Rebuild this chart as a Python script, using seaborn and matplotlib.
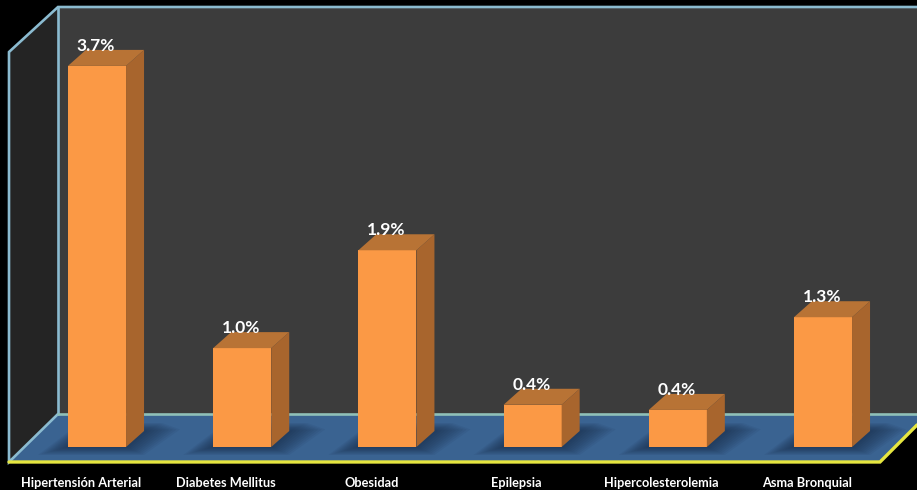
import matplotlib
matplotlib.use("Agg")
import matplotlib.pyplot as plt
import seaborn as sns
import pandas as pd
from matplotlib.patches import Polygon
from matplotlib.transforms import ScaledTranslation

categories = ["Hipertensión Arterial", "Diabetes Mellitus", "Obesidad",
              "Epilepsia", "Hipercolesterolemia", "Asma Bronquial"]
values = [3.7, 0.96, 1.91, 0.41, 0.36, 1.26]

W, H = 917, 490
sns.set_theme(style="white")
plt.rcParams["font.family"] = ["Lato", "DejaVu Sans"]

fig = plt.figure(figsize=(W / 100, H / 100), dpi=100, facecolor="black")

# Backdrop of the 3-D box, in pixel coordinates
bg = fig.add_axes([0, 0, 1, 1], zorder=0)
bg.set_xlim(0, W)
bg.set_ylim(H, 0)
bg.axis("off")
bg.add_patch(Polygon([(58, 7), (917, 7), (917, 414), (58, 414)], fc="#3c3c3c", ec="none"))
bg.add_patch(Polygon([(9, 52), (58, 7), (58, 414), (9, 462)], fc="#242424", ec="none"))
bg.add_patch(Polygon([(9, 462), (58, 414), (917, 414), (917, 425), (880, 462)], fc="#3a6391", ec="none"))
edge = "#8bbbd0"
bg.plot([917, 58, 9, 9, 58], [7, 7, 52, 462, 414], color=edge, lw=1.9, solid_joinstyle="miter")
bg.plot([58, 58], [7, 414], color=edge, lw=1.9)
bg.plot([58, 917], [414, 414], color="#8fc0b8", lw=1.9)
bg.plot([9, 880, 917], [462, 462, 425], color="#e6e640", lw=2.4, solid_joinstyle="miter")

# Chart axes: bottom edge on the bar baseline
px_x = 145.2   # pixels per category
px_y = 103.0   # pixels per percentage point
base = 447
ax = fig.add_axes([0, (H - base) / H, 1, base / H], zorder=1)
ax.patch.set_alpha(0)

df = pd.DataFrame({"cat": categories, "val": values})
sns.barplot(data=df, x="cat", y="val", ax=ax, color="#fb9945", saturation=1,
            width=0.4, errorbar=None, zorder=3, edgecolor="none", linewidth=0)

ax.set_xlim(-97 / px_x, (W - 97) / px_x)
ax.set_ylim(0, base / px_y)
ax.set_xlabel("")
ax.set_ylabel("")
ax.set_yticks([])
for s in ax.spines.values():
    s.set_visible(False)

ax.tick_params(axis="x", length=0, pad=21.5)
shift = ScaledTranslation(-16 / 100, 0, fig.dpi_scale_trans)
for lab in ax.get_xticklabels():
    lab.set_transform(lab.get_transform() + shift)
    lab.set_color("white")
    lab.set_fontweight("bold")
    lab.set_fontsize(9.2)

# Depth faces, floor shadows and value labels for every bar
dx, dy = 18 / px_x, 16 / px_y
for bar, v in zip(ax.patches, values):
    x0, x1 = bar.get_x(), bar.get_x() + bar.get_width()
    for k in range(1, 11):
        ex, ey = (3.0 * k) / px_x, (0.8 * k) / px_y
        ax.add_patch(Polygon([(x0 - ex, -ey), (x1 + ex * 0.6, -ey),
                              (x1 + dx + ex * 1.2, dy + ey * 0.2), (x1 + dx + ex * 0.6, dy + ey),
                              (x0 + dx - ex * 0.2, dy + ey)],
                             fc="#12233c", ec="none", alpha=0.07, zorder=1,
                             clip_on=False))
    ax.add_patch(Polygon([(x1, 0), (x1 + dx, dy), (x1 + dx, v + dy), (x1, v)],
                         fc="#a8652d", ec="none", zorder=3))
    ax.add_patch(Polygon([(x0, v), (x0 + dx, v + dy), (x1 + dx, v + dy), (x1, v)],
                         fc="#b87335", ec="none", zorder=3))
    ax.annotate(f"{v:.1f}%", xy=(bar.get_x() + bar.get_width() / 2, v), xytext=(-1, 20),
                textcoords="offset pixels", ha="center", va="center",
                color="white", fontsize=12.5, fontweight="bold", zorder=5)

fig.savefig("out.png", dpi=100, facecolor="black")
